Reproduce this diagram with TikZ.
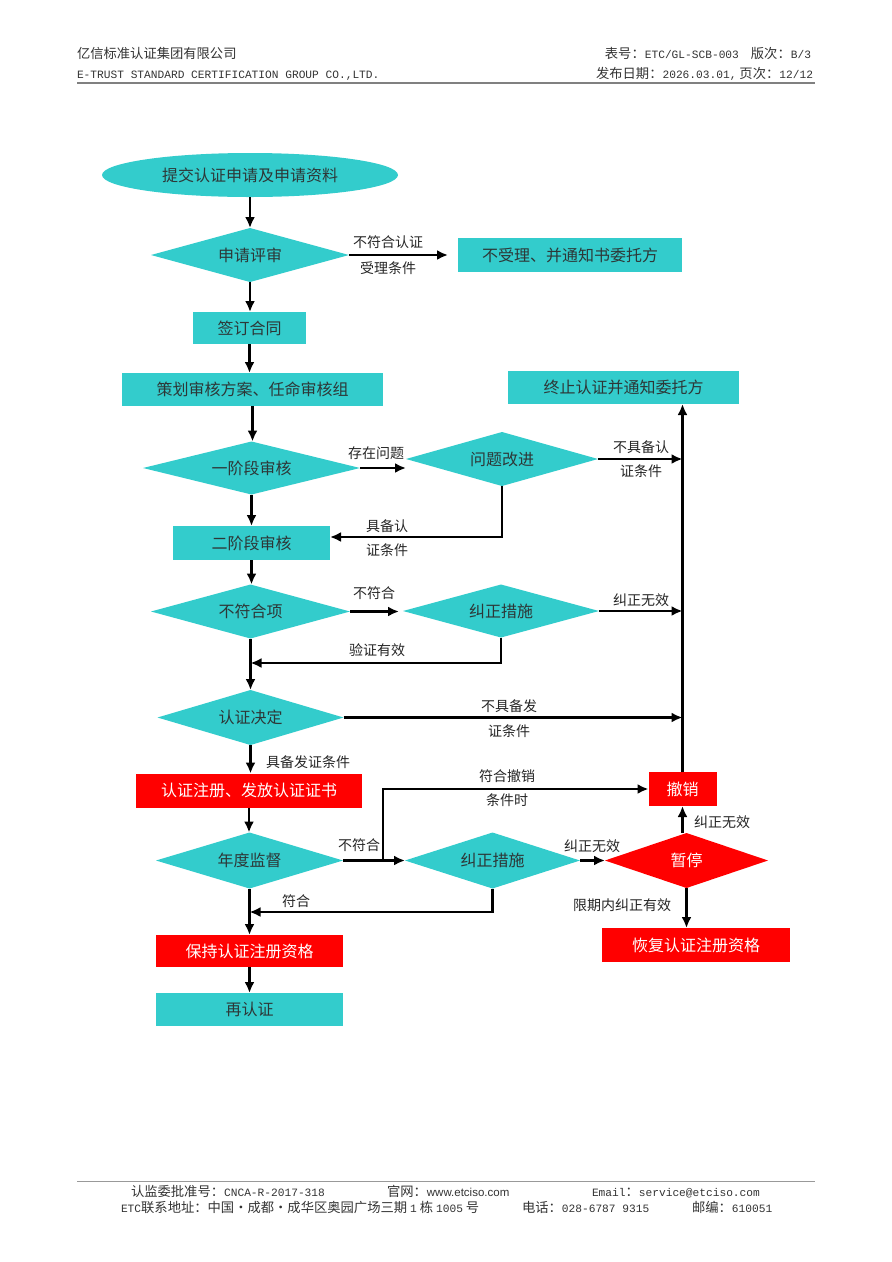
\documentclass[tikz,border=0pt]{standalone}
\usepackage{fontspec}
\setmainfont{Noto Sans CJK SC}
\newfontfamily\monofam{Liberation Mono}
\newfontfamily\sansfam{Liberation Sans}
\usetikzlibrary{shapes.geometric,arrows.meta}
\definecolor{tealfill}{RGB}{51,204,204}
\definecolor{redfill}{RGB}{255,0,0}
\definecolor{boxtext}{RGB}{45,55,55}
\newcommand\lmono[1]{{\monofam\fontsize{11.2}{13}\selectfont #1}}
\newcommand\lsans[1]{{\sansfam\fontsize{11.5}{13}\selectfont #1}}
\tikzset{
  every node/.style={inner sep=0pt, outer sep=0pt},
  tbox/.style={rectangle, fill=tealfill, text=boxtext, font=\fontsize{16}{19}\selectfont},
  rbox/.style={rectangle, fill=redfill, text=white, font=\fontsize{16}{19}\selectfont},
  tdia/.style={diamond, aspect=3.5, fill=tealfill, text=boxtext, font=\fontsize{16}{19}\selectfont},
  rdia/.style={diamond, aspect=3.5, fill=redfill, text=white, font=\fontsize{16}{19}\selectfont},
  lbl/.style={font=\fontsize{14}{16}\selectfont, text=black!85},
  arr/.style={draw=black, line width=2.3pt, -{Latex[length=11pt,width=10pt]}},
  hdr/.style={font=\fontsize{13.3}{15}\selectfont, text=black!80, anchor=base west},
  hdrr/.style={font=\fontsize{13.3}{15}\selectfont, text=black!80, anchor=base east},
}
\begin{document}
\begin{tikzpicture}[x=1pt,y=-1pt]
\useasboundingbox (0,0) rectangle (892,1262);
\fill[white] (0,0) rectangle (892,1262);

% header
\node[hdr] (h1) at (77,58) {亿信标准认证集团有限公司};
\node[hdr] (h2) at (77,78) {\lmono{E-TRUST STANDARD CERTIFICATION GROUP CO.,LTD.}};
\node[hdrr] (h3) at (811,58) {表号：\lmono{ETC/GL-SCB-003}\hspace{12pt}版次：\lmono{B/3}};
\node[hdrr] (h4) at (813,78) {发布日期：\lmono{2026.03.01,} 页次：\lmono{12/12}};
\coordinate (hr1) at (77,83);
\coordinate (hr2) at (815,83);
\draw[gray, line width=1.4pt] (hr1) -- (hr2);

% footer
\coordinate (fr1) at (77,1181);
\coordinate (fr2) at (815,1181);
\draw[gray!80, line width=1pt] (fr1) -- (fr2);
\node[hdr] (f1) at (131,1196) {认监委批准号：\lmono{CNCA-R-2017-318}};
\node[hdr] (f2) at (387,1196) {官网：\lsans{www.etciso.com}};
\node[hdr] (f3) at (592,1196) {\lmono{Email}：\lmono{service@etciso.com}};
\node[hdr] (f4) at (121,1212) {\lmono{ETC}联系地址：中国・成都・成华区奥园广场三期 \lmono{1} 栋 \lmono{1005} 号};
\node[hdr] (f5) at (522,1212) {电话：\lmono{028-6787 9315}};
\node[hdr] (f6) at (692,1212) {邮编：\lmono{610051}};

% nodes
\node[ellipse, fill=tealfill, text=boxtext, font=\fontsize{16}{19}\selectfont, minimum width=296pt, minimum height=44pt] (ell) at (250,175) {提交认证申请及申请资料};
\node[tdia, minimum width=198pt, minimum height=54pt] (d1) at (250,255) {申请评审};
\node[tbox, minimum width=224pt, minimum height=34pt] (r1) at (570,255) {不受理、并通知书委托方};
\node[tbox, minimum width=113pt, minimum height=32pt] (b2) at (249.5,328) {签订合同};
\node[tbox, minimum width=261pt, minimum height=33pt] (b3) at (252.5,389.5) {策划审核方案、任命审核组};
\node[tbox, minimum width=231pt, minimum height=33pt] (term) at (623.5,387.5) {终止认证并通知委托方};
\node[tdia, minimum width=217pt, minimum height=53pt] (d2) at (251.5,468) {一阶段审核};
\node[tdia, minimum width=192pt, minimum height=54pt] (d3) at (502,459) {问题改进};
\node[tbox, minimum width=157pt, minimum height=34pt] (b4) at (251.5,543) {二阶段审核};
\node[tdia, minimum width=199pt, minimum height=54pt] (d4) at (250.5,611.5) {不符合项};
\node[tdia, minimum width=196pt, minimum height=53pt] (d5) at (501,611) {纠正措施};
\node[tdia, minimum width=186pt, minimum height=55pt] (d6) at (250.5,717.5) {认证决定};
\node[rbox, minimum width=226pt, minimum height=34pt] (red1) at (249,790.5) {认证注册、发放认证证书};
\node[rbox, minimum width=68pt, minimum height=34pt] (rev) at (682.5,789) {撤销};
\node[tdia, minimum width=187pt, minimum height=56pt] (d7) at (249.5,860.5) {年度监督};
\node[tdia, minimum width=175pt, minimum height=56pt] (d8) at (492.5,860.5) {纠正措施};
\node[rdia, minimum width=163pt, minimum height=55pt] (d9) at (686.5,860.5) {暂停};
\node[rbox, minimum width=188pt, minimum height=34pt] (rec) at (696,945) {恢复认证注册资格};
\node[rbox, minimum width=187pt, minimum height=32pt] (keep) at (249.5,951) {保持认证注册资格};
\node[tbox, minimum width=187pt, minimum height=33pt] (re) at (249.5,1009.5) {再认证};

% helper coordinates
\coordinate (j1) at (250.5,663);
\coordinate (j2) at (383,860.5);
\coordinate (j3) at (249.5,912);

% connectors
\draw[arr] (ell.south) -- (ell.south |- d1.north);
\draw[arr, shorten >=10pt] (d1.east) -- (r1.west);
\draw[arr] (d1.south) -- (d1.south |- b2.north);
\draw[arr] (b2.south) -- (b2.south |- b3.north);
\draw[arr] (b3.south) -- (b3.south |- d2.north);
\draw[arr] (d2.east) -- (d2.east -| d3.west);
\draw[arr] (d3.east) -- (d3.east -| rev.north);
\draw[arr] (d3.south) |- ([yshift=6pt]b4.east);
\draw[arr] (d2.south) -- (d2.south |- b4.north);
\draw[arr] (b4.south) -- (b4.south |- d4.north);
\draw[arr, shorten >=4pt] (d4.east) -- (d4.east -| d5.west);
\draw[arr] (d5.east) -- (d5.east -| rev.north);
\draw[arr] (d5.south) |- (j1);
\draw[arr] (d4.south) -- (d4.south |- d6.north);
\draw[arr] (d6.east) -- (d6.east -| rev.north);
\draw[arr] (d6.south) -- (d6.south |- red1.north);
\draw[arr] (red1.south) -- (red1.south |- d7.north);
\draw[arr] (d7.east) -- (d8.west);
\draw[arr] (j2) |- (rev.west);
\draw[arr] (d8.east) -- (d9.west);
\draw[arr] (rev.south |- d9.north) -- (rev.south);
\draw[arr] (d9.south) -- (d9.south |- rec.north);
\draw[arr] (d8.south) |- (j3);
\draw[arr] (d7.south) -- (d7.south |- keep.north);
\draw[arr] (keep.south) -- (keep.south |- re.north);
\draw[arr] (rev.north) -- (rev.north |- term.south);

% labels
\node[lbl] (l1) at (388,242) {不符合认证};
\node[lbl] (l2) at (388,268) {受理条件};
\node[lbl] (l3) at (376,453) {存在问题};
\node[lbl] (l4) at (641,447) {不具备认};
\node[lbl] (l5) at (641,471) {证条件};
\node[lbl] (l6) at (387,526) {具备认};
\node[lbl] (l7) at (387,550) {证条件};
\node[lbl] (l8) at (374,593) {不符合};
\node[lbl] (l9) at (641,600) {纠正无效};
\node[lbl] (l10) at (377,650) {验证有效};
\node[lbl] (l11) at (509,706) {不具备发};
\node[lbl] (l12) at (509,731) {证条件};
\node[lbl] (l13) at (308,762) {具备发证条件};
\node[lbl] (l14) at (507,776) {符合撤销};
\node[lbl] (l15) at (507,800) {条件时};
\node[lbl] (l16) at (359,845) {不符合};
\node[lbl] (l17) at (592,846) {纠正无效};
\node[lbl] (l18) at (722,822) {纠正无效};
\node[lbl] (l19) at (622,905) {限期内纠正有效};
\node[lbl] (l20) at (296,901) {符合};
\end{tikzpicture}
\end{document}
